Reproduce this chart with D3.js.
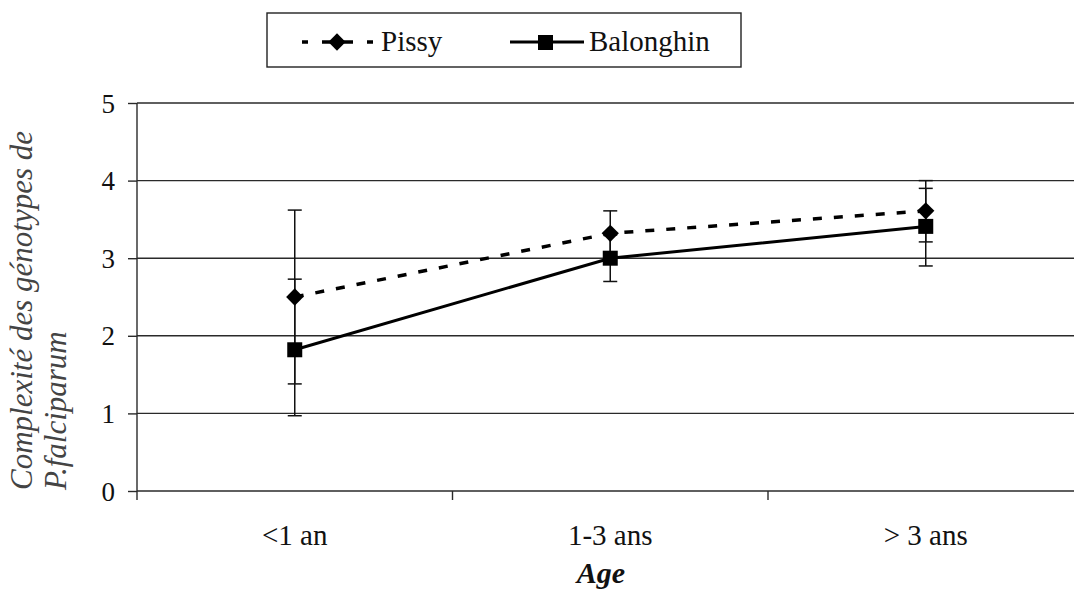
<!DOCTYPE html>
<html>
<head>
<meta charset="utf-8">
<script src="https://cdn.jsdelivr.net/npm/d3@7"></script>
<style>
  body { margin: 0; background: #fff; }
  svg text { font-family: "Liberation Serif", "Times New Roman", serif; fill: #111; }
</style>
</head>
<body>
<svg id="chart" width="1074" height="590" font-family="Liberation Serif"></svg>
<script>
// data
var categories = ["<1 an", "1-3 ans", "> 3 ans"];
var pissy = [2.5, 3.32, 3.61];
var pissyLow = [1.38, 3.03, 3.21];
var pissyHigh = [3.62, 3.61, 4.0];
var balonghin = [1.82, 3.0, 3.41];
var balonghinLow = [0.97, 2.70, 2.90];
var balonghinHigh = [2.73, 3.30, 3.90];
var yTicks = [0, 1, 2, 3, 4, 5];

var svg = d3.select("#chart");
var plotLeft = 137, plotTop = 103, plotBottom = 491, bandW = 315.5;

var x = d3.scaleBand().domain(categories).range([plotLeft, plotLeft + bandW * categories.length]).padding(0);
var y = d3.scaleLinear().domain([0, 5]).range([plotBottom, plotTop]);

// grid lines
svg.append("g").selectAll("line").data(yTicks.slice(1)).enter().append("line")
  .attr("x1", plotLeft).attr("x2", 1074)
  .attr("y1", function (d) { return y(d); }).attr("y2", function (d) { return y(d); })
  .attr("stroke", "#2a2a2a").attr("stroke-width", 1.4);

// y axis
var yAxis = svg.append("g").attr("transform", "translate(" + plotLeft + ",0)")
  .call(d3.axisLeft(y).tickValues(yTicks).tickSize(9).tickPadding(13).tickFormat(d3.format("d")));
yAxis.select(".domain").remove();
yAxis.append("line").attr("x1", 0).attr("x2", 0).attr("y1", plotTop).attr("y2", plotBottom + 9)
  .attr("stroke", "#2a2a2a").attr("stroke-width", 1.4);
yAxis.selectAll(".tick line").attr("stroke", "#2a2a2a").attr("stroke-width", 1.4);
yAxis.selectAll(".tick text").attr("font-size", 27).attr("fill", "#111")
  .attr("font-family", "Liberation Serif").attr("dy", "0.34em");

// x axis
var xAxis = svg.append("g").attr("transform", "translate(0," + plotBottom + ")");
xAxis.append("line").attr("x1", plotLeft).attr("x2", 1074).attr("y1", 0).attr("y2", 0)
  .attr("stroke", "#2a2a2a").attr("stroke-width", 1.4);
xAxis.selectAll(".sep").data(categories.slice(1)).enter().append("line")
  .attr("x1", function (d) { return x(d); }).attr("x2", function (d) { return x(d); })
  .attr("y1", 0).attr("y2", 9).attr("stroke", "#2a2a2a").attr("stroke-width", 1.4);
xAxis.selectAll(".lbl").data(categories).enter().append("text")
  .attr("x", function (d) { return x(d) + x.bandwidth() / 2; })
  .attr("y", 54).attr("text-anchor", "middle").attr("font-size", 29)
  .text(function (d) { return d; });

svg.append("text").attr("x", 601).attr("y", 583).attr("text-anchor", "middle")
  .attr("font-size", 30).attr("font-weight", "bold").attr("font-style", "italic").text("Age");

// y label
var yl = svg.append("text").attr("transform", "translate(0,490) rotate(-90)")
  .attr("font-size", 31).attr("font-style", "italic").style("fill", "#444");
yl.append("tspan").attr("x", 0).attr("y", 32).text("Complexité des génotypes de");
yl.append("tspan").attr("x", 0).attr("y", 66).text("P.falciparum");

function cx(i) { return x(categories[i]) + x.bandwidth() / 2; }
var idx = d3.range(categories.length);

// error bars
function errorBars(low, high) {
  var g = svg.append("g").attr("stroke", "#111").attr("stroke-width", 1.5);
  g.selectAll(".v").data(idx).enter().append("line")
    .attr("x1", cx).attr("x2", cx)
    .attr("y1", function (i) { return y(low[i]); }).attr("y2", function (i) { return y(high[i]); });
  [low, high].forEach(function (arr) {
    g.selectAll(null).data(idx).enter().append("line")
      .attr("x1", function (i) { return cx(i) - 7; }).attr("x2", function (i) { return cx(i) + 7; })
      .attr("y1", function (i) { return y(arr[i]); }).attr("y2", function (i) { return y(arr[i]); });
  });
}
errorBars(pissyLow, pissyHigh);
errorBars(balonghinLow, balonghinHigh);

// lines
var line = d3.line().x(function (d, i) { return cx(i); }).y(function (d) { return y(d); });
svg.append("path").datum(balonghin).attr("d", line).attr("fill", "none")
  .attr("stroke", "#000").attr("stroke-width", 3);
svg.append("path").datum(pissy).attr("d", line).attr("fill", "none")
  .attr("stroke", "#000").attr("stroke-width", 3.5).attr("stroke-dasharray", "9,12");

// markers
var diamond = d3.symbol().type(d3.symbolDiamond2).size(190);
svg.selectAll(".pm").data(pissy).enter().append("path")
  .attr("d", diamond).attr("fill", "#000")
  .attr("transform", function (d, i) { return "translate(" + cx(i) + "," + y(d) + ")"; });
svg.selectAll(".bm").data(balonghin).enter().append("rect")
  .attr("x", function (d, i) { return cx(i) - 7.5; }).attr("y", function (d) { return y(d) - 7.5; })
  .attr("width", 15).attr("height", 15).attr("fill", "#000");

// legend
var lg = svg.append("g");
lg.append("rect").attr("x", 267).attr("y", 13).attr("width", 474).attr("height", 54)
  .attr("fill", "#fff").attr("stroke", "#222").attr("stroke-width", 1.4);
lg.append("line").attr("x1", 302).attr("x2", 373).attr("y1", 42).attr("y2", 42)
  .attr("stroke", "#000").attr("stroke-width", 3.5).attr("stroke-dasharray", "6,14,31,14,6");
lg.append("path").attr("d", diamond).attr("fill", "#000").attr("transform", "translate(337,42)");
lg.append("text").attr("x", 381).attr("y", 51).attr("font-size", 29).text("Pissy");
lg.append("line").attr("x1", 510).attr("x2", 584).attr("y1", 42).attr("y2", 42)
  .attr("stroke", "#000").attr("stroke-width", 3);
lg.append("rect").attr("x", 538).attr("y", 35).attr("width", 15).attr("height", 15).attr("fill", "#000");
lg.append("text").attr("x", 589).attr("y", 51).attr("font-size", 29).text("Balonghin");
</script>
</body>
</html>
